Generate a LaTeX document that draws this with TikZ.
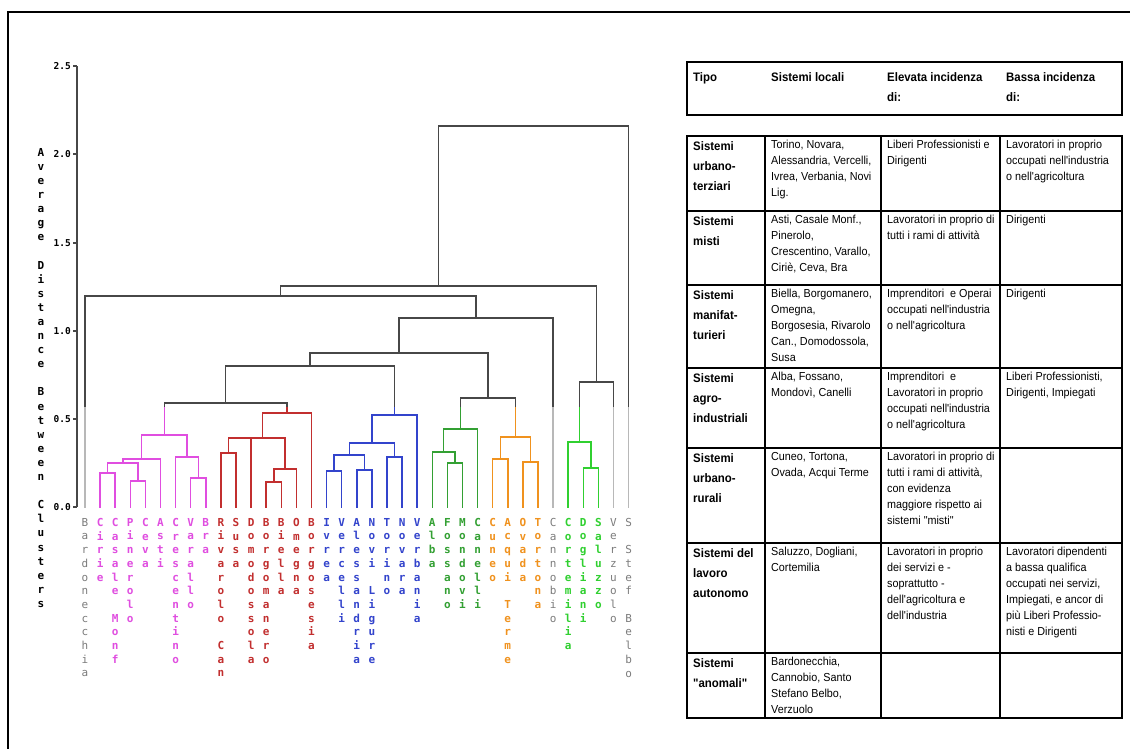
\documentclass[tikz,border=0pt]{standalone}
\usepackage{fontspec}
\setmainfont{Liberation Sans}
\newfontfamily\tabf[FakeStretch=0.93]{Liberation Sans}
\newfontfamily\monof{DejaVu Sans Mono}
\usetikzlibrary{calc}
\definecolor{dkc}{HTML}{474747}
\definecolor{pkc}{HTML}{E04EE0}
\definecolor{rdc}{HTML}{C22F2F}
\definecolor{blc}{HTML}{3344CC}
\definecolor{gnc}{HTML}{33A033}
\definecolor{orc}{HTML}{F0921E}
\definecolor{bgc}{HTML}{30D030}
\definecolor{gyc}{HTML}{B8B8B8}
\definecolor{gyt}{HTML}{7C7C7C}
\newcommand\mrg[7]{%
 \coordinate (tmpH) at (0,#4);
 \draw[#5] (#2) -- (#2 |- tmpH);
 \draw[#6] (#3) -- (#3 |- tmpH);
 \draw[#7] (#2 |- tmpH) -- (#3 |- tmpH);
 \coordinate (#1) at ($(#2 |- tmpH)!0.5!(#3 |- tmpH)$);}
\newcommand\abovetree{%
 \mrg{PR}{P}{R}{403}{cpk}{crd}{cdk}
 \mrg{PRB}{PR}{B}{366}{cdk}{cbl}{cdk}
 \mrg{GO}{G}{O}{398}{cgn}{cor}{cdk}
 \mrg{X1}{PRB}{GO}{353}{cdk}{cdk}{cdk}
 \mrg{X2}{X1}{L32}{318}{cdk}{cgy}{cdk}
 \mrg{X3}{L1}{X2}{296}{cgy}{cdk}{cdk}
 \mrg{BV}{Q}{L36}{382}{cbg}{cgy}{cdk}
 \mrg{X4}{X3}{BV}{286}{cdk}{cdk}{cdk}
 \mrg{RT}{X4}{L37}{126}{cdk}{cgy}{cdk}}
\begin{document}
\begin{tikzpicture}[x=1pt,y=-1pt,
  cdk/.style={draw=dkc}, cpk/.style={draw=pkc}, crd/.style={draw=rdc},
  cbl/.style={draw=blc}, cgn/.style={draw=gnc}, cor/.style={draw=orc},
  cbg/.style={draw=bgc}, cgy/.style={draw=gyc},
  leaf/.style={anchor=north, inner sep=0pt, align=center, font=\monof\bfseries\fontsize{11}{13.7}\selectfont},
  gleaf/.style={leaf, text=gyt, font=\monof\fontsize{11}{13.7}\selectfont},
  tick/.style={anchor=east, inner sep=0pt, font=\monof\bfseries\fontsize{9.5}{10}\selectfont},
  rt/.style={anchor=north west, inner sep=0pt, align=left, font=\tabf\fontsize{11.6}{16}\selectfont},
  bt/.style={anchor=north west, inner sep=0pt, align=left, font=\tabf\bfseries\fontsize{12.3}{20}\selectfont}]
\useasboundingbox (0,0) rectangle (1130,748);
\fill[white] (0,0) rectangle (1130,748);
% frame
\draw[line width=2.5] (8,760) -- (8,12) -- (1140,12);
% axis
\draw[dkc, line width=1.2] (77,66) -- (77,507);
\foreach \v/\y in {2.5/66,2.0/154,1.5/243,1.0/331,0.5/419,0.0/507}{
  \draw[dkc, line width=1.2] (73,\y) -- (77,\y);
  \node[tick] (tk\v) at (71,\y) {\v};}
\node[anchor=north, inner sep=0pt, align=center, font=\monof\bfseries\fontsize{11}{14.1}\selectfont] (ytitle) at (41,148) {A\\v\\e\\r\\a\\g\\e\\~\\D\\i\\s\\t\\a\\n\\c\\e\\~\\B\\e\\t\\w\\e\\e\\n\\~\\C\\l\\u\\s\\t\\e\\r\\s};
% leaves
\foreach \i in {1,...,37} \coordinate (L\i) at ({85+15.1*(\i-1)},507);
\begin{scope}[line width=1.5, line cap=rect]
% pink cluster
\mrg{p1}{L2}{L3}{473}{cpk}{cpk}{cpk}
\mrg{p2}{L4}{L5}{481}{cpk}{cpk}{cpk}
\mrg{p3}{p1}{p2}{463}{cpk}{cpk}{cpk}
\mrg{p4}{p3}{L6}{459}{cpk}{cpk}{cpk}
\mrg{p5}{L8}{L9}{478}{cpk}{cpk}{cpk}
\mrg{p6}{L7}{p5}{457}{cpk}{cpk}{cpk}
\mrg{P}{p4}{p6}{435}{cpk}{cpk}{cpk}
% red cluster
\mrg{r1}{L10}{L11}{453}{crd}{crd}{crd}
\mrg{r2}{r1}{L12}{438}{crd}{crd}{crd}
\mrg{r3}{L13}{L14}{482}{crd}{crd}{crd}
\mrg{r4}{r3}{L15}{469}{crd}{crd}{crd}
\mrg{r5}{r2}{r4}{438}{crd}{crd}{crd}
\mrg{R}{r5}{L16}{413}{crd}{crd}{crd}
% blue cluster
\mrg{b1}{L17}{L18}{471}{cbl}{cbl}{cbl}
\mrg{b2}{L19}{L20}{470}{cbl}{cbl}{cbl}
\mrg{b3}{b1}{b2}{455}{cbl}{cbl}{cbl}
\mrg{b4}{L21}{L22}{457}{cbl}{cbl}{cbl}
\mrg{b5}{b3}{b4}{443}{cbl}{cbl}{cbl}
\mrg{B}{b5}{L23}{415}{cbl}{cbl}{cbl}
% green cluster
\mrg{g1}{L25}{L26}{463}{cgn}{cgn}{cgn}
\mrg{g2}{L24}{g1}{452}{cgn}{cgn}{cgn}
\mrg{G}{g2}{L27}{429}{cgn}{cgn}{cgn}
% orange cluster
\mrg{o1}{L28}{L29}{459}{cor}{cor}{cor}
\mrg{o2}{L30}{L31}{462}{cor}{cor}{cor}
\mrg{O}{o1}{o2}{437}{cor}{cor}{cor}
% bright green cluster
\mrg{q1}{L34}{L35}{468}{cbg}{cbg}{cbg}
\mrg{Q}{L33}{q1}{442}{cbg}{cbg}{cbg}
% upper part
\begin{scope}
 \clip (0,0) rectangle (660,407);
 \tikzset{cpk/.style={draw=dkc}, crd/.style={draw=dkc}, cbl/.style={draw=dkc},
   cgn/.style={draw=dkc}, cor/.style={draw=dkc}, cbg/.style={draw=dkc}, cgy/.style={draw=dkc}}
 \abovetree
\end{scope}
\begin{scope}
 \clip (0,407) rectangle (660,520);
 \abovetree
\end{scope}
\end{scope}
% leaf labels
\node[gleaf] (n1) at ($(L1)+(0,11)$) {B\\a\\r\\d\\o\\n\\e\\c\\c\\h\\i\\a};
\node[leaf,text=pkc] (n2) at ($(L2)+(0,11)$) {C\\i\\r\\i\\e};
\node[leaf,text=pkc] (n3) at ($(L3)+(0,11)$) {C\\a\\s\\a\\l\\e\\~\\M\\o\\n\\f};
\node[leaf,text=pkc] (n4) at ($(L4)+(0,11)$) {P\\i\\n\\e\\r\\o\\l\\o};
\node[leaf,text=pkc] (n5) at ($(L5)+(0,11)$) {C\\e\\v\\a};
\node[leaf,text=pkc] (n6) at ($(L6)+(0,11)$) {A\\s\\t\\i};
\node[leaf,text=pkc] (n7) at ($(L7)+(0,11)$) {C\\r\\e\\s\\c\\e\\n\\t\\i\\n\\o};
\node[leaf,text=pkc] (n8) at ($(L8)+(0,11)$) {V\\a\\r\\a\\l\\l\\o};
\node[leaf,text=pkc] (n9) at ($(L9)+(0,11)$) {B\\r\\a};
\node[leaf,text=rdc] (n10) at ($(L10)+(0,11)$) {R\\i\\v\\a\\r\\o\\l\\o\\~\\C\\a\\n};
\node[leaf,text=rdc] (n11) at ($(L11)+(0,11)$) {S\\u\\s\\a};
\node[leaf,text=rdc] (n12) at ($(L12)+(0,11)$) {D\\o\\m\\o\\d\\o\\s\\s\\o\\l\\a};
\node[leaf,text=rdc] (n13) at ($(L13)+(0,11)$) {B\\o\\r\\g\\o\\m\\a\\n\\e\\r\\o};
\node[leaf,text=rdc] (n14) at ($(L14)+(0,11)$) {B\\i\\e\\l\\l\\a};
\node[leaf,text=rdc] (n15) at ($(L15)+(0,11)$) {O\\m\\e\\g\\n\\a};
\node[leaf,text=rdc] (n16) at ($(L16)+(0,11)$) {B\\o\\r\\g\\o\\s\\e\\s\\i\\a};
\node[leaf,text=blc] (n17) at ($(L17)+(0,11)$) {I\\v\\r\\e\\a};
\node[leaf,text=blc] (n18) at ($(L18)+(0,11)$) {V\\e\\r\\c\\e\\l\\l\\i};
\node[leaf,text=blc] (n19) at ($(L19)+(0,11)$) {A\\l\\e\\s\\s\\a\\n\\d\\r\\i\\a};
\node[leaf,text=blc] (n20) at ($(L20)+(0,11)$) {N\\o\\v\\i\\~\\L\\i\\g\\u\\r\\e};
\node[leaf,text=blc] (n21) at ($(L21)+(0,11)$) {T\\o\\r\\i\\n\\o};
\node[leaf,text=blc] (n22) at ($(L22)+(0,11)$) {N\\o\\v\\a\\r\\a};
\node[leaf,text=blc] (n23) at ($(L23)+(0,11)$) {V\\e\\r\\b\\a\\n\\i\\a};
\node[leaf,text=gnc] (n24) at ($(L24)+(0,11)$) {A\\l\\b\\a};
\node[leaf,text=gnc] (n25) at ($(L25)+(0,11)$) {F\\o\\s\\s\\a\\n\\o};
\node[leaf,text=gnc] (n26) at ($(L26)+(0,11)$) {M\\o\\n\\d\\o\\v\\i};
\node[leaf,text=gnc] (n27) at ($(L27)+(0,11)$) {C\\a\\n\\e\\l\\l\\i};
\node[leaf,text=orc] (n28) at ($(L28)+(0,11)$) {C\\u\\n\\e\\o};
\node[leaf,text=orc] (n29) at ($(L29)+(0,11)$) {A\\c\\q\\u\\i\\~\\T\\e\\r\\m\\e};
\node[leaf,text=orc] (n30) at ($(L30)+(0,11)$) {O\\v\\a\\d\\a};
\node[leaf,text=orc] (n31) at ($(L31)+(0,11)$) {T\\o\\r\\t\\o\\n\\a};
\node[gleaf] (n32) at ($(L32)+(0,11)$) {C\\a\\n\\n\\o\\b\\i\\o};
\node[leaf,text=bgc] (n33) at ($(L33)+(0,11)$) {C\\o\\r\\t\\e\\m\\i\\l\\i\\a};
\node[leaf,text=bgc] (n34) at ($(L34)+(0,11)$) {D\\o\\g\\l\\i\\a\\n\\i};
\node[leaf,text=bgc] (n35) at ($(L35)+(0,11)$) {S\\a\\l\\u\\z\\z\\o};
\node[gleaf] (n36) at ($(L36)+(0,11)$) {V\\e\\r\\z\\u\\o\\l\\o};
\node[gleaf] (n37) at ($(L37)+(0,11)$) {S\\~\\S\\t\\e\\f\\~\\B\\e\\l\\b\\o};
% table header
\draw[line width=2.6] (687,62) rectangle (1122,115);
\node[bt] (h1) at (693,72) {Tipo};
\node[bt] (h2) at (771,72) {Sistemi locali};
\node[bt] (h3) at (887,72) {Elevata incidenza\\di:};
\node[bt] (h4) at (1006,72) {Bassa incidenza\\di:};
% table body
\draw[line width=2.2] (687,136) rectangle (1122,718);
\foreach \y in {211,285,368,448,543,653} \draw[line width=1.8] (687,\y) -- (1122,\y);
\foreach \x in {765,881,1000} \draw[line width=1.8] (\x,136) -- (\x,718);
% row 1
\node[bt] (a1) at (693,141) {Sistemi\\urbano-\\terziari};
\node[rt] (a2) at (771,140) {Torino, Novara,\\Alessandria, Vercelli,\\Ivrea, Verbania, Novi\\Lig.};
\node[rt] (a3) at (887,140) {Liberi Professionisti e\\Dirigenti};
\node[rt] (a4) at (1006,140) {Lavoratori in proprio\\occupati nell'industria\\o nell'agricoltura};
% row 2
\node[bt] (b1) at (693,216) {Sistemi\\misti};
\node[rt] (b2) at (771,215) {Asti, Casale Monf.,\\Pinerolo,\\Crescentino, Varallo,\\Ciriè, Ceva, Bra};
\node[rt] (b3) at (887,215) {Lavoratori in proprio di\\tutti i rami di attività};
\node[rt] (b4) at (1006,215) {Dirigenti};
% row 3
\node[bt] (c1) at (693,290) {Sistemi\\manifat-\\turieri};
\node[rt] (c2) at (771,289) {Biella, Borgomanero,\\Omegna,\\Borgosesia, Rivarolo\\Can., Domodossola,\\Susa};
\node[rt] (c3) at (887,289) {Imprenditori\ \ e Operai\\occupati nell'industria\\o nell'agricoltura};
\node[rt] (c4) at (1006,289) {Dirigenti};
% row 4
\node[bt] (d1) at (693,373) {Sistemi\\agro-\\industriali};
\node[rt] (d2) at (771,372) {Alba, Fossano,\\Mondovì, Canelli};
\node[rt] (d3) at (887,372) {Imprenditori\ \ e\\Lavoratori in proprio\\occupati nell'industria\\o nell'agricoltura};
\node[rt] (d4) at (1006,372) {Liberi Professionisti,\\Dirigenti, Impiegati};
% row 5
\node[bt] (e1) at (693,453) {Sistemi\\urbano-\\rurali};
\node[rt] (e2) at (771,452) {Cuneo, Tortona,\\Ovada, Acqui Terme};
\node[rt] (e3) at (887,452) {Lavoratori in proprio di\\tutti i rami di attività,\\con evidenza\\maggiore rispetto ai\\sistemi "misti"};
% row 6
\node[bt] (f1) at (693,548) {Sistemi del\\lavoro\\autonomo};
\node[rt] (f2) at (771,547) {Saluzzo, Dogliani,\\Cortemilia};
\node[rt] (f3) at (887,547) {Lavoratori in proprio\\dei servizi e -\\soprattutto -\\dell'agricoltura e\\dell'industria};
\node[rt] (f4) at (1006,547) {Lavoratori dipendenti\\a bassa qualifica\\occupati nei servizi,\\Impiegati, e ancor di\\più Liberi Professio-\\nisti e Dirigenti};
% row 7
\node[bt] (g1) at (693,658) {Sistemi\\"anomali"};
\node[rt] (g2) at (771,657) {Bardonecchia,\\Cannobio, Santo\\Stefano Belbo,\\Verzuolo};
\end{tikzpicture}
\end{document}
